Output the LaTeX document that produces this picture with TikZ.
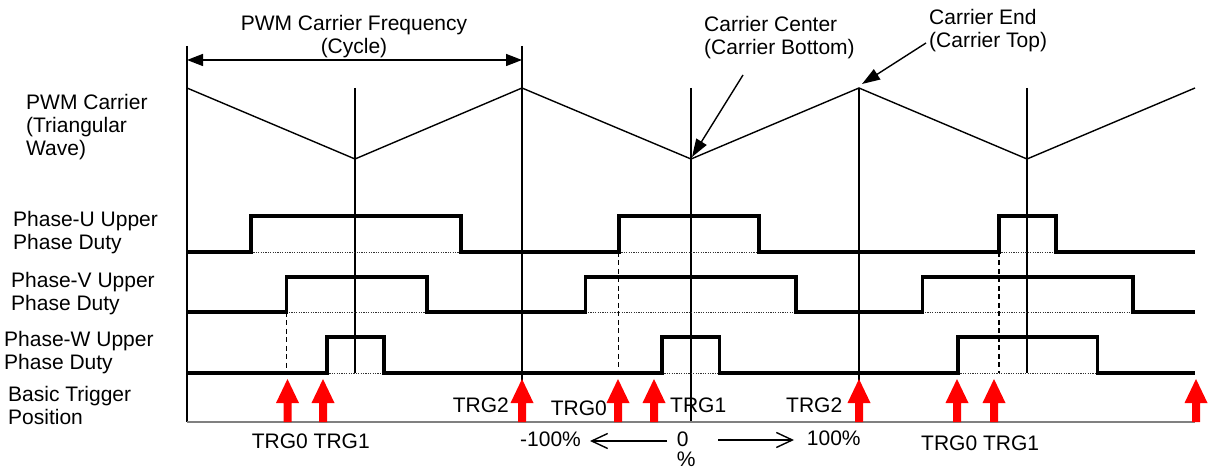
\documentclass[tikz,border=0pt]{standalone}
\usepackage{fontspec}
\setmainfont{Liberation Sans}
\usetikzlibrary{arrows.meta}
\newcommand\mlines[1]{\begin{tabular}[t]{@{}l@{}}#1\end{tabular}}
\newcommand\mclines[1]{\begin{tabular}[t]{@{}c@{}}#1\end{tabular}}
\definecolor{trgred}{RGB}{255,0,0}
\definecolor{basegray}{RGB}{128,128,128}
\begin{document}
\begin{tikzpicture}[x=1pt,y=-1pt,
  lbl/.style={anchor=base west,inner sep=0pt,font=\fontsize{21}{23}\selectfont},
  clbl/.style={anchor=base,inner sep=0pt,font=\fontsize{21}{23}\selectfont},
  thinl/.style={line width=1.4pt,black},
  wave/.style={line width=3.5pt,black,line join=miter},
  dotl/.style={line width=0.7pt,black!80,dash pattern=on 1.2pt off 1.2pt},
  dashl/.style={line width=1.6pt,black,dash pattern=on 5pt off 3.5pt},
  dimarr/.style={line width=1.4pt,{Triangle[length=16pt,width=12pt]}-{Triangle[length=16pt,width=12pt]}},
  annarr/.style={line width=1.4pt,-{Triangle[length=18pt,width=12pt]}},
  pctarr/.style={line width=1.4pt,-{Straight Barb[length=16pt,width=15pt]}},
  trg/.pic={\fill[trgred] (-4,0) -- (-4,-19) -- (-11.5,-19) -- (0,-43) -- (11.5,-19) -- (4,-19) -- (4,0) -- cycle;}
]
\useasboundingbox (0,0) rectangle (1208,470);

% carrier points
\coordinate (c0) at (187,88);
\coordinate (c1) at (355,159);
\coordinate (c2) at (522,88);
\coordinate (c3) at (691,159);
\coordinate (c4) at (859,88);
\coordinate (c5) at (1027,159);
\coordinate (c6) at (1195,88);

% vertical reference lines
\draw[thinl] (187,46) -- (187,422);
\draw[thinl] (522,46) -- (522,422);
\draw[thinl] (355,88) -- (355,373);
\draw[thinl] (691,88) -- (691,422);
\draw[thinl] (859,88) -- (859,422);
\draw[thinl] (1027,88) -- (1027,373);

% triangular carrier
\draw[thinl,line join=miter] (c0) -- (c1) -- (c2) -- (c3) -- (c4) -- (c5) -- (c6);

% dimension arrow
\coordinate (dimL) at (187,60);
\coordinate (dimR) at (522,60);
\draw[dimarr] (dimL) -- (dimR);
\node[clbl] (freq) at (354,31) {\mclines{PWM Carrier Frequency\\(Cycle)}};

% annotations
\node[lbl] (cc) at (704,32) {\mlines{Carrier Center\\(Carrier Bottom)}};
\node[lbl] (ce) at (929,25) {\mlines{Carrier End\\(Carrier Top)}};
\coordinate (ccTail) at (743,75);
\coordinate (ccTip) at (692,157);
\coordinate (ceTail) at (926,43);
\coordinate (ceTip) at (862,84);
\draw[annarr] (ccTail) -- (ccTip);
\draw[annarr] (ceTail) -- (ceTip);

% left labels
\node[lbl] (lc) at (26,110) {\mlines{PWM Carrier\\(Triangular\\Wave)}};
\node[lbl] (lu) at (13,227) {\mlines{Phase-U Upper\\Phase Duty}};
\node[lbl] (lv) at (11,288) {\mlines{Phase-V Upper\\Phase Duty}};
\node[lbl] (lw) at (4,347) {\mlines{Phase-W Upper\\Phase Duty}};
\node[lbl] (lt) at (8,402) {\mlines{Basic Trigger\\Position}};

% dotted low levels under pulses
\draw[dotl] (251,252) -- (461,252);
\draw[dotl] (619,252) -- (759,252);
\draw[dotl] (999,252) -- (1056,252);
\draw[dotl] (286.5,312) -- (427,312);
\draw[dotl] (585.5,312) -- (796,312);
\draw[dotl] (922.5,312) -- (1133,312);
\draw[dotl] (327,373) -- (384,373);
\draw[dotl] (662,373) -- (719.5,373);
\draw[dotl] (958,373) -- (1097.5,373);

% dashed markers
\draw[dashl] (286.5,312) -- (286.5,373);
\draw[dashl] (618.5,252) -- (618.5,373);
\draw[dashl] (999,252) -- (999,373);

% waveforms
\draw[wave] (187,252) -| (251,216) -| (461,252) -| (619,216) -| (759,252) -| (999,216) -| (1056,252) -- (1195,252);
\draw[wave] (187,312) -| (286.5,277) -| (427,312) -| (585.5,277) -| (796,312) -| (922.5,277) -| (1133,312) -- (1195,312);
\draw[wave] (187,373) -| (327,337) -| (384,373) -| (662,337) -| (719.5,373) -| (958,337) -| (1097.5,373) -- (1195,373);

% base line
\draw[line width=1.8pt,basegray] (187,422) -- (1195,422);

% trigger arrows
\pic (t1) at (287.5,422) {trg};
\pic (t2) at (323,422) {trg};
\pic (t3) at (522,422) {trg};
\pic (t4) at (618,422) {trg};
\pic (t5) at (654,422) {trg};
\pic (t6) at (859,422) {trg};
\pic (t7) at (957,422) {trg};
\pic (t8) at (994,422) {trg};
\pic (t9) at (1196,422) {trg};

% trigger labels
\node[lbl] (g1) at (251.7,448) {TRG0 TRG1};
\node[lbl] (g2) at (452.7,413) {TRG2};
\node[lbl] (g3) at (550.7,415) {TRG0};
\node[lbl] (g4) at (670,413) {TRG1};
\node[lbl] (g5) at (786,413) {TRG2};
\node[lbl] (g6) at (921,450) {TRG0 TRG1};

% percentage scale
\node[lbl] (pm) at (520,446) {-100\%};
\node[lbl] (p0) at (676.7,446) {\mlines{0\\[-2.5pt]\%}};
\node[lbl] (pp) at (806.7,445) {100\%};
\coordinate (laS) at (667,441);
\coordinate (laE) at (590,441);
\coordinate (raS) at (718,440);
\coordinate (raE) at (794,440);
\draw[pctarr] (laS) -- (laE);
\draw[pctarr] (raS) -- (raE);
\end{tikzpicture}
\end{document}
